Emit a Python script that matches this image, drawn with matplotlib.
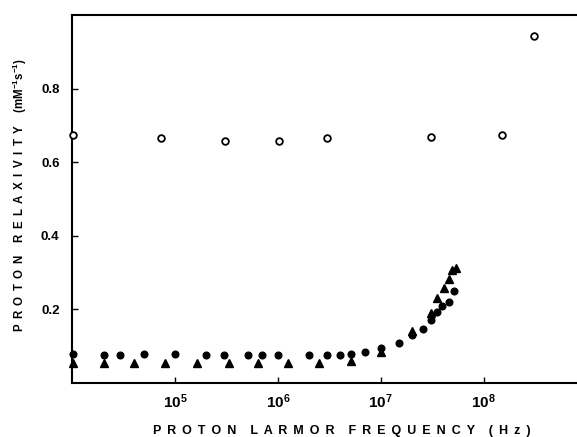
# plot.py
#
# Proton relaxivity vs proton Larmor frequency (NMRD profile).
#
import numpy as np
import matplotlib
matplotlib.use("Agg")
import matplotlib.pyplot as plt

plt.rcParams['font.family'] = ['Liberation Sans', 'DejaVu Sans']
plt.rcParams['font.weight'] = 'bold'
plt.rcParams['mathtext.fontset'] = 'custom'
plt.rcParams['mathtext.rm'] = 'Liberation Sans:bold'
plt.rcParams['mathtext.bf'] = 'Liberation Sans:bold'
plt.rcParams['mathtext.default'] = 'bf'

# --- data (log10 of frequency in Hz, relaxivity) ---
open_logf = [4.01, 4.86, 5.49, 6.01, 6.48, 7.49, 8.18, 8.49]
open_r = [0.675, 0.665, 0.657, 0.657, 0.666, 0.668, 0.675, 0.942]

dot_logf = [4.01, 4.31, 4.47, 4.70, 5.00, 5.30, 5.48, 5.71, 5.85, 6.00,
            6.30, 6.48, 6.60, 6.71, 6.85, 7.00, 7.18, 7.30, 7.41, 7.49,
            7.55, 7.60, 7.66, 7.71]
dot_r = [0.079, 0.076, 0.076, 0.078, 0.078, 0.077, 0.076, 0.076, 0.076, 0.076,
         0.076, 0.076, 0.076, 0.079, 0.085, 0.096, 0.108, 0.131, 0.147, 0.171,
         0.192, 0.210, 0.220, 0.250]

tri_logf = [4.01, 4.31, 4.60, 4.90, 5.21, 5.53, 5.81, 6.10, 6.40, 6.71,
            7.00, 7.30, 7.49, 7.55, 7.61, 7.66, 7.69, 7.73]
tri_r = [0.054, 0.054, 0.054, 0.054, 0.054, 0.054, 0.054, 0.054, 0.054, 0.060,
         0.084, 0.140, 0.190, 0.231, 0.258, 0.283, 0.307, 0.313]

xtick_exp = [5, 6, 7, 8]
ytick_vals = [0.2, 0.4, 0.6, 0.8]


def spaced(text):
    # wide letter spacing like the original typesetting
    return '    '.join(' \u2009'.join(w) for w in text.split(' '))


fig = plt.figure(figsize=(5.77, 4.37), dpi=100)
ax = fig.add_axes([72 / 577, 1 - 383 / 437, 1 - 72 / 577, (383 - 15) / 437])

ax.plot(10 ** np.array(dot_logf), dot_r, 'o', color='black', ms=4.8,
        clip_on=False, zorder=3)
ax.plot(10 ** np.array(tri_logf), tri_r, '^', color='black', ms=5.8,
        clip_on=False, zorder=3)
ax.plot(10 ** np.array(open_logf), open_r, 'o', mfc='white', mec='black',
        mew=1.3, ms=4.8, clip_on=False, zorder=3)

ax.set_xscale('log')
ax.set_xlim(1e4, 10 ** 8.907)
ax.set_ylim(0, 1.0)

ax.set_xticks([10.0 ** e for e in xtick_exp])
ax.set_xticklabels([r'$10^{%d}$' % e for e in xtick_exp])
ax.xaxis.set_minor_locator(matplotlib.ticker.NullLocator())
ax.set_yticks(ytick_vals)
ax.set_yticklabels(['%.1f' % v for v in ytick_vals])

ax.tick_params(direction='in', length=4, width=1.0, labelsize=9.5)
ax.tick_params(axis='x', pad=7, labelsize=11)
ax.tick_params(axis='y', pad=9)

for side in ['left', 'bottom', 'top']:
    ax.spines[side].set_linewidth(1.5)
ax.spines['right'].set_visible(False)

fig.text(342 / 577, 1 - 431 / 437, spaced('PROTON LARMOR FREQUENCY (Hz)'),
         ha='center', va='center', fontsize=9, fontweight='bold')
fig.text(20 / 577, 1 - 195 / 437,
         spaced('PROTON RELAXIVITY') + '    ' + r'(mM$^{-1}$s$^{-1}$)',
         ha='center', va='center', rotation=90, fontsize=8.3,
         fontweight='bold')

fig.savefig('out.png', dpi=100)
